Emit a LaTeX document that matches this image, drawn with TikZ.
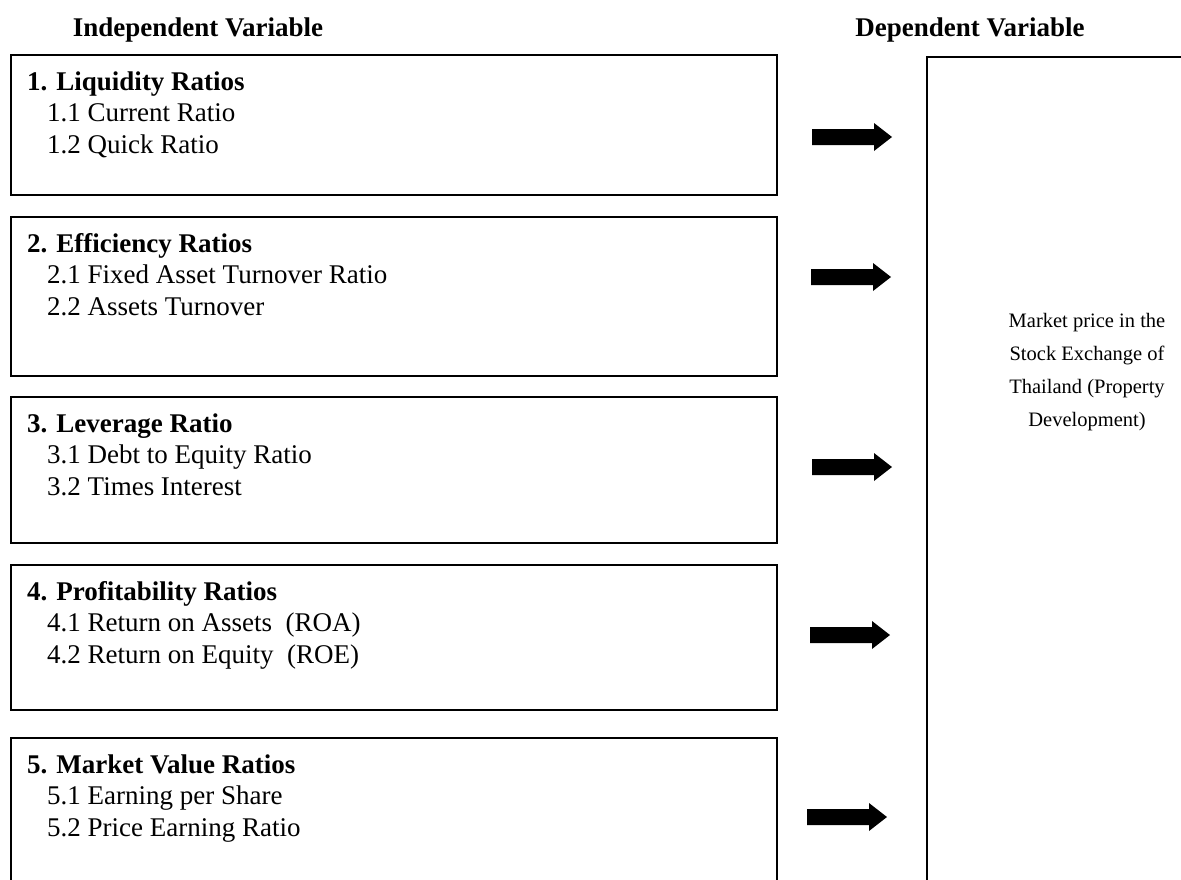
\documentclass[tikz,border=0pt]{standalone}
\usepackage{fontspec}
\setmainfont{Liberation Serif}
\begin{document}
\begin{tikzpicture}[x=1pt,y=-1pt,
  frame/.style={draw=black, line width=2.3pt},
  headtxt/.style={font=\fontsize{27}{31.5}\selectfont\bfseries, anchor=base west, inner sep=0pt},
  itemtxt/.style={font=\fontsize{27}{31.5}\selectfont, anchor=base west, inner sep=0pt},
  dvtxt/.style={font=\fontsize{20.5}{33}\selectfont, anchor=base, inner sep=0pt},
  coltitle/.style={font=\fontsize{27}{31.5}\selectfont\bfseries, anchor=base, inner sep=0pt},
  fatarrow/.pic={\fill[black] (-40,-8) -- (22,-8) -- (22,-14) -- (40,0)
                   -- (22,14) -- (22,8) -- (-40,8) -- cycle;}
]
\useasboundingbox (0,0) rectangle (1181,879);
\clip (0,0) rectangle (1181,879);

% column titles
\node[coltitle] (ivtitle) at (198,36) {Independent Variable};
\node[coltitle] (dvtitle) at (970,36) {Dependent Variable};

% independent variable groups
\foreach \i/\t/\b/\head/\ia/\ib in {
  1/55/195/{1. Liquidity Ratios}/{1.1 Current Ratio}/{1.2 Quick Ratio},
  2/217/376/{2. Efficiency Ratios}/{2.1 Fixed Asset Turnover Ratio}/{2.2 Assets Turnover},
  3/397/543/{3. Leverage Ratio}/{3.1 Debt to Equity Ratio}/{3.2 Times Interest},
  4/565/710/{4. Profitability Ratios}/{4.1 Return on Assets\ \ (ROA)}/{4.2 Return on Equity\ \ (ROE)},
  5/738/920/{5. Market Value Ratios}/{5.1 Earning per Share}/{5.2 Price Earning Ratio}}
{
  \draw[frame] (11,\t) coordinate (box\i nw) rectangle (777,\b) coordinate (box\i se);
  \node[headtxt] (head\i) at (27,\t+35) {\head};
  \node[itemtxt] (item\i a) at (47,\t+66.5) {\ia};
  \node[itemtxt] (item\i b) at (47,\t+98) {\ib};
}

% dependent variable box
\draw[frame] (927,57) coordinate (dvnw) rectangle (1220,920) coordinate (dvse);
\node[dvtxt] (dv1) at (1087,327) {Market price in the};
\node[dvtxt] (dv2) at (1087,360) {Stock Exchange of};
\node[dvtxt] (dv3) at (1087,393) {Thailand (Property};
\node[dvtxt] (dv4) at (1087,426) {Development)};

% block arrows between the groups and the dependent variable
\pic (arr1) at (852,137) {fatarrow};
\pic (arr2) at (851,277) {fatarrow};
\pic (arr3) at (852,467) {fatarrow};
\pic (arr4) at (850,635) {fatarrow};
\pic (arr5) at (847,817) {fatarrow};
\end{tikzpicture}
\end{document}
